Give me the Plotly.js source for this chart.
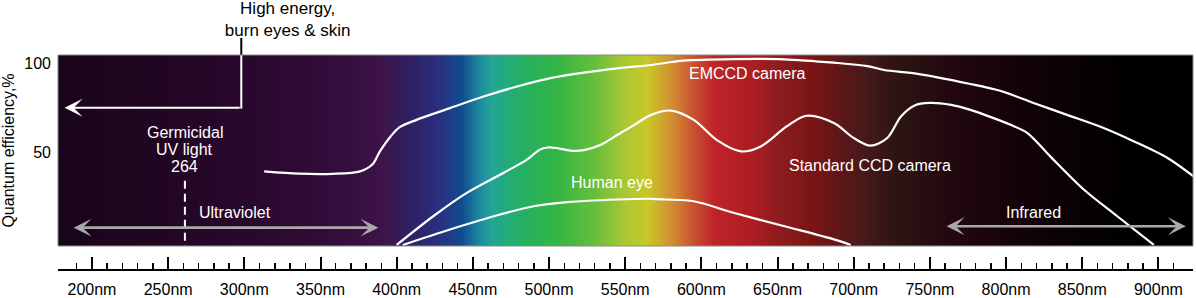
<!DOCTYPE html>
<html>
<head>
<meta charset="utf-8">
<script src="https://cdn.plot.ly/plotly-3.0.1.min.js"></script>
<style>
  html, body { margin: 0; padding: 0; background: #ffffff; }
  #chart { width: 1196px; height: 298px; }
</style>
</head>
<body>
<div id="chart"></div>
<script>
// ---------- data ----------
const xRange = [177.7, 922.7];          // wavelength axis extent (nm)
const yRange = [-2.6, 104.6];           // quantum efficiency extent (%)

const majorTicksNm = [200, 250, 300, 350, 400, 450, 500, 550, 600, 650, 700, 750, 800, 850, 900];
const yTicks = [50, 100];

// spectrum background colour stops (wavelength nm -> colour)
const spectrumNm = [177, 242, 297, 330, 374, 389, 408, 428, 442, 455, 462, 481, 503, 529, 551, 564, 581, 595, 608, 630, 652, 674, 707, 729, 762, 806, 839, 872, 923];
const spectrumColors = ['#19051a', '#210621', '#28082d', '#2d0a32', '#370f41', '#3e1448', '#2e1f62', '#2a3080', '#104b8f', '#1e8ca0', '#23a596', '#23af64', '#32b446', '#64be3c', '#afc832', '#c8c828', '#d28c32', '#c85030', '#be2328', '#af1e23', '#8c1c1e', '#781414', '#46191a', '#2d1412', '#230810', '#140308', '#0a0205', '#020002', '#000000'];

// EMCCD camera quantum efficiency
const emccdNm = [313, 336, 358, 376, 384, 389, 396, 402, 413, 435, 457, 479, 501, 523, 545, 567, 588, 621, 654, 687, 709, 720, 742, 775, 796, 818, 840, 862, 884, 906, 923];
const emccdQE = [39.3, 38.0, 37.9, 39.3, 43.1, 50.5, 58.9, 64.1, 68.2, 74.8, 81.3, 86.9, 91.6, 94.7, 97.1, 99.0, 101.4, 102.3, 102.2, 100.3, 98.4, 96.2, 94.0, 88.6, 84.5, 77.7, 71.0, 64.3, 56.1, 46.8, 36.5];

// Standard CCD camera quantum efficiency
const ccdNm = [400, 424, 446, 470, 485.5, 494, 499, 505, 514, 523, 534, 545, 556, 567, 580, 595, 610, 626, 639, 656, 669, 687, 700, 711, 722, 731, 740, 750, 764, 775, 786, 803, 814, 829, 851, 873, 897];
const ccdQE = [-2, 14.1, 27.2, 38.4, 45.9, 51.5, 52.7, 52.4, 50.9, 51.2, 54.2, 59.8, 65.4, 71.0, 73.4, 68.2, 57.0, 50.5, 53.3, 64.5, 70.5, 66.4, 58.0, 53.7, 58.0, 70.1, 76.3, 77.7, 76.6, 74.2, 71.0, 65.4, 60.8, 47.7, 29.1, 14.1, -2];

// Human eye sensitivity
const eyeNm = [404, 435, 468, 490, 512, 545, 567, 577, 595, 621, 654, 687, 698];
const eyeQE = [-2, 6.7, 15.1, 19.7, 22.0, 23.5, 23.9, 23.5, 22.5, 16.1, 8.6, 1.1, -2];

// annotation anchors
const germicidalNm = 261;          // dashed marker (labelled 264)
const germicidalTop = 34;
const uvArrow = {from: 187, to: 388, qe: 7.7};
const irArrow = {from: 760, to: 918, qe: 8.5};
const highEnergy = {nm: 298, tipNm: 182, qe: 75};

// ---------- build ----------
const FONT = 'Liberation Sans, Arial, Helvetica, sans-serif';

const span = spectrumNm[spectrumNm.length - 1] - spectrumNm[0];
const colorscale = spectrumNm.map((v, i) => [(v - spectrumNm[0]) / span, spectrumColors[i]]);

const background = {
  type: 'heatmap',
  x: spectrumNm,
  y: [-20, 130],
  z: [spectrumNm, spectrumNm],
  zmin: spectrumNm[0],
  zmax: spectrumNm[spectrumNm.length - 1],
  colorscale: colorscale,
  zsmooth: 'best',
  showscale: false,
  hoverinfo: 'skip'
};

const curve = (x, y) => ({
  type: 'scatter', mode: 'lines', x: x, y: y,
  line: {color: '#ffffff', width: 2.2, shape: 'spline', smoothing: 0.9},
  hoverinfo: 'skip', showlegend: false, cliponaxis: true
});

const tickVals = [xRange[0]].concat(majorTicksNm, [xRange[1]]);
const tickText = [''].concat(majorTicksNm.map(v => v + 'nm'), ['']);
const minorVals = [];
for (let v = 190; v <= 910; v += 10) minorVals.push(v);

const whiteText = (text, x, y) => ({
  text: text, x: x, y: y, xref: 'x', yref: 'y', showarrow: false,
  font: {family: FONT, size: 16, color: '#ffffff'}, xanchor: 'center', yanchor: 'middle'
});

const dblArrow = (a) => ({
  x: a.to, y: a.qe, ax: a.from, ay: a.qe, xref: 'x', yref: 'y', axref: 'x', ayref: 'y',
  text: '', showarrow: true, arrowside: 'end+start',
  arrowhead: 3, startarrowhead: 3, arrowsize: 1.15, startarrowsize: 1.15,
  arrowwidth: 2.6, arrowcolor: '#a9a9a9', standoff: 0, startstandoff: 0
});

const annotations = [
  whiteText('Germicidal', germicidalNm, 61),
  whiteText('UV light', germicidalNm, 51.5),
  whiteText('264', germicidalNm, 42),
  whiteText('Ultraviolet', 294, 16.2),
  whiteText('Infrared', 818, 16.2),
  whiteText('EMCCD camera', 630, 94.3),
  whiteText('Standard CCD camera', 711, 42.5),
  whiteText('Human eye', 541.5, 32.8),
  dblArrow(uvArrow),
  dblArrow(irArrow),
  {
    x: highEnergy.tipNm, y: highEnergy.qe, ax: highEnergy.nm, ay: highEnergy.qe,
    xref: 'x', yref: 'y', axref: 'x', ayref: 'y', text: '', showarrow: true,
    arrowhead: 3, arrowsize: 1.5, arrowwidth: 2, arrowcolor: '#ffffff', standoff: 0
  }
];

const shapes = [
  {type: 'line', xref: 'x', yref: 'y', x0: highEnergy.nm, x1: highEnergy.nm, y0: highEnergy.qe - 0.5, y1: yRange[1],
   line: {color: '#ffffff', width: 2}},
  {type: 'line', xref: 'x', yref: 'paper', x0: highEnergy.nm, x1: highEnergy.nm, y0: 1, y1: 1.079,
   line: {color: '#000000', width: 2}},
  {type: 'line', xref: 'x', yref: 'y', x0: germicidalNm, x1: germicidalNm, y0: germicidalTop, y1: yRange[0],
   line: {color: '#ffffff', width: 2, dash: '8px,5px'}},
  {type: 'rect', xref: 'x domain', yref: 'y domain', x0: 0, x1: 1, y0: 0, y1: 1,
   line: {color: '#8a8a8a', width: 1}, fillcolor: 'rgba(0,0,0,0)'}
];

const layout = {
  width: 1196, height: 298,
  margin: {l: 58, r: 3, t: 55, b: 28, pad: 0},
  paper_bgcolor: '#ffffff', plot_bgcolor: '#000000',
  font: {family: FONT, size: 16, color: '#000000'},
  showlegend: false,
  title: {
    text: 'High energy,<br>burn eyes &amp; skin',
    x: 242 / 1196, xanchor: 'center', xref: 'paper',
    y: 0.952, yanchor: 'top', yref: 'container',
    font: {family: FONT, size: 17, color: '#000000'}
  },
  xaxis: {
    range: xRange, anchor: 'free', position: 0,
    showgrid: false, zeroline: false,
    showline: true, linecolor: '#000000', linewidth: 2,
    tickmode: 'array', tickvals: tickVals, ticktext: tickText,
    ticks: 'inside', ticklen: 12, tickwidth: 2, tickcolor: '#000000',
    ticklabelstandoff: 5,
    tickfont: {family: FONT, size: 16, color: '#000000'},
    minor: {tickmode: 'array', tickvals: minorVals, ticks: 'inside', ticklen: 6, tickwidth: 1.5, tickcolor: '#000000', showgrid: false},
    fixedrange: true
  },
  yaxis: {
    range: yRange, domain: [0.1116, 1], anchor: 'x',
    showgrid: false, zeroline: false, showline: false,
    tickmode: 'array', tickvals: yTicks, ticktext: yTicks.map(String),
    ticks: '', ticklabelstandoff: 6,
    tickfont: {family: FONT, size: 16, color: '#000000'},
    title: {text: 'Quantum efficiency,%', font: {family: FONT, size: 16, color: '#000000'}, standoff: 6},
    fixedrange: true
  },
  shapes: shapes,
  annotations: annotations
};

Plotly.newPlot('chart', [background, curve(emccdNm, emccdQE), curve(ccdNm, ccdQE), curve(eyeNm, eyeQE)], layout,
  {displayModeBar: false, staticPlot: true});
</script>
</body>
</html>
